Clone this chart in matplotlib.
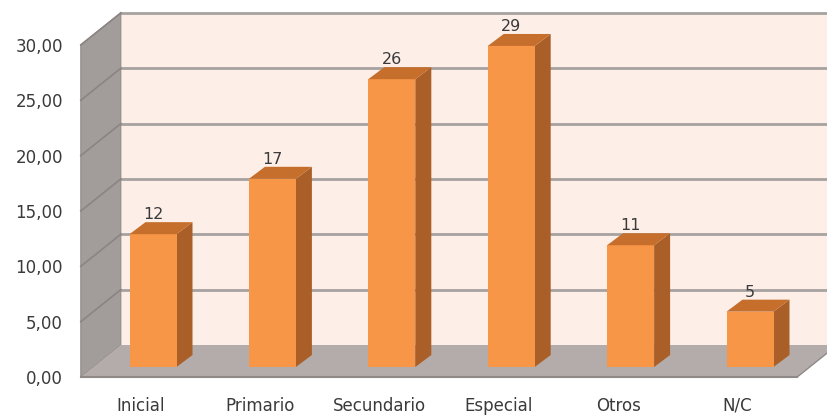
import matplotlib.pyplot as plt
from matplotlib.patches import Polygon

categorias = ["Inicial", "Primario", "Secundario", "Especial", "Otros", "N/C"]
valores = [12, 17, 26, 29, 11, 5]
ticks_y = [0, 5, 10, 15, 20, 25, 30]
etiquetas_y = ["0,00", "5,00", "10,00", "15,00", "20,00", "25,00", "30,00"]

W, H = 828, 416
PX_X = 119.4   # pixels por categoria
PX_Y = 11.07   # pixels por unidad

naranja = "#f79646"
naranja_lado = "#a95f27"
naranja_tope = "#c66f2c"
pared = "#fdeee7"
pared_izq = "#a29c9a"
piso = "#b3acaa"
grilla = "#a6a2a0"
texto = "#3a3a3a"


def px(dx, dy):
    # desplazamiento en pixeles -> unidades de datos
    return dx / PX_X, dy / PX_Y


fig = plt.figure(figsize=(W / 100, H / 100), dpi=100)
ax = fig.add_axes([0, 0, 1, 1])
ax.set_xlim(-153 / PX_X, (W - 153) / PX_X)
ax.set_ylim(-49 / PX_Y, (H - 49) / PX_Y)
ax.axis("off")

x0, x1 = -0.5, len(categorias) - 0.5
ymax = ticks_y[-1]
fx, fy = px(-12.5, -10)   # plano frontal
bx, by = px(27.5, 22)     # plano del fondo

# pared del fondo
ax.add_patch(Polygon([(x0 + bx, by), (x1 + bx + 1, by), (x1 + bx + 1, ymax + by),
                      (x0 + bx, ymax + by)], closed=True, fc=pared, ec="none", zorder=1))
for v in ticks_y[1:]:
    ax.plot([x0 + bx, x1 + bx + 1], [v + by, v + by], color=grilla, lw=2, zorder=2)

# pared izquierda
ax.add_patch(Polygon([(x0 + fx, fy), (x0 + fx, ymax + fy), (x0 + bx, ymax + by),
                      (x0 + bx, by)], closed=True, fc=pared_izq, ec="#8f8987", lw=0.8, zorder=3))
for v in ticks_y[1:]:
    ax.plot([x0 + fx, x0 + bx], [v + fy, v + by], color="#8a8482", lw=1.2, zorder=4)

# piso
ax.add_patch(Polygon([(x0 + fx, fy), (x1 + fx, fy), (x1 + bx, by), (x0 + bx, by)],
                     closed=True, fc=piso, ec="none", zorder=3))
ax.plot([x0 + fx, x1 + fx], [fy, fy], color="#8f8987", lw=1.5, zorder=4)
ax.plot([x1 + fx, x1 + bx], [fy, by], color="#8f8987", lw=1, zorder=4)

# barras
ancho = 47 / PX_X
ddx, ddy = px(16, 12)
xs = list(range(len(categorias)))
ax.bar(xs, valores, width=ancho, color=naranja, zorder=6)
for x, v in zip(xs, valores):
    der = x + ancho / 2
    izq = x - ancho / 2
    ax.add_patch(Polygon([(der, 0), (der, v), (der + ddx, v + ddy), (der + ddx, ddy)],
                         closed=True, fc=naranja_lado, ec="none", zorder=5))
    ax.add_patch(Polygon([(izq, v), (der, v), (der + ddx, v + ddy), (izq + ddx, v + ddy)],
                         closed=True, fc=naranja_tope, ec="none", zorder=6))
    ax.text(x, v + ddy, str(v), ha="center", va="bottom",
            fontsize=11.5, color=texto, zorder=7)

# etiquetas de ejes
for v, lab in zip(ticks_y, etiquetas_y):
    ax.text(x0 + fx + px(-18, 0)[0], v + fy + px(0, -2)[1], lab, ha="right", va="center",
            fontsize=12, color=texto)
for x, lab in zip(xs, categorias):
    ax.text(x + fx, fy + px(0, -29)[1], lab, ha="center", va="center",
            fontsize=12, color=texto)

fig.savefig("out.png", dpi=100, facecolor="white")
